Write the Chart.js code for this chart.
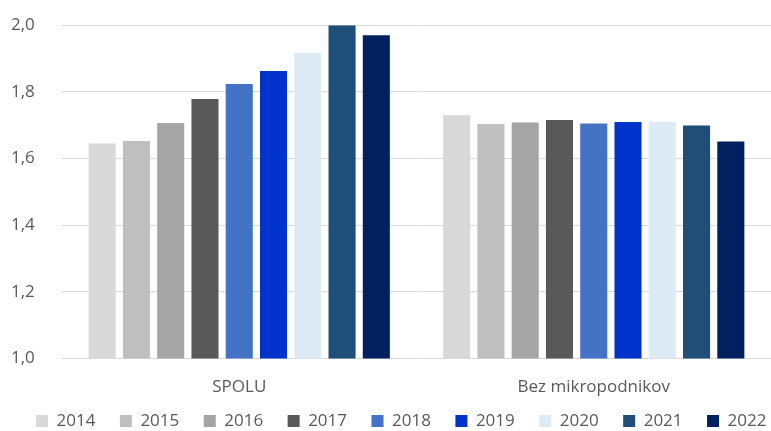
<!DOCTYPE html>
<html>
<head>
<meta charset="utf-8">
<script src="https://cdn.jsdelivr.net/npm/chart.js@4"></script>
<style>
  html, body { margin: 0; padding: 0; background: #fff; }
  #wrap { width: 771px; height: 431px; }
</style>
</head>
<body>
<div id="wrap"><canvas id="myChart" width="771" height="431"></canvas></div>
<script>
// categories and series
let categories = ["SPOLU", "Bez mikropodnikov"];
let years = ["2014", "2015", "2016", "2017", "2018", "2019", "2020", "2021", "2022"];
let spolu = [1.645, 1.653, 1.707, 1.779, 1.824, 1.863, 1.917, 2.0, 1.97];
let bezMikro = [1.730, 1.704, 1.708, 1.716, 1.705, 1.710, 1.710, 1.699, 1.651];
let yTicks = [1.0, 1.2, 1.4, 1.6, 1.8, 2.0];

let colors = ['#d9d9d9', '#bfbfbf', '#a5a5a5', '#595959', '#4472c4',
              '#0033cc', '#ddebf7', '#1f4e79', '#002060'];

let datasets = years.map(function (y, i) {
    return {
        label: y,
        data: [spolu[i], bezMikro[i]],
        backgroundColor: colors[i],
        borderWidth: 0,
        categoryPercentage: 0.87,
        barPercentage: 0.79
    };
});

const textColor = '#595959';
const fontFamily = '"Open Sans", "Noto Sans", sans-serif';
const fontSize = 17;

// legend: one row, small box in the layout, drawn on its own strip at the bottom
const legendTweak = {
    id: 'legendTweak',
    afterInit(chart) {
        const legend = chart.legend;
        const fit = legend.fit;
        const draw = legend.draw;
        legend.fit = function () {
            const mw = this.maxWidth;
            this.maxWidth = mw + 200;
            fit.call(this);
            this.maxWidth = mw;
            this.width = mw;
            this.height = 16;
        };
        legend.draw = function () {
            const saved = [this.left, this.right, this.top, this.bottom, this.width, this.height];
            const lblPad = this.options.labels.padding;
            this.left = 36 - lblPad;
            this.right = 900;
            this.top = 421 - lblPad - fontSize / 2;
            this.bottom = chart.height;
            this.width = this.right - this.left;
            this.height = this.bottom - this.top;
            draw.call(this);
            [this.left, this.right, this.top, this.bottom, this.width, this.height] = saved;
        };
    }
};

new Chart(document.getElementById('myChart'), {
    type: 'bar',
    data: { labels: categories, datasets: datasets },
    plugins: [legendTweak],
    options: {
        responsive: false,
        animation: false,
        layout: { padding: { top: 0, right: 0, left: 11, bottom: 0 } },
        plugins: {
            tooltip: { enabled: false },
            legend: {
                position: 'bottom',
                align: 'start',
                labels: {
                    color: textColor,
                    font: { family: fontFamily, size: fontSize },
                    boxWidth: 12,
                    boxHeight: 12,
                    padding: 24.5
                }
            }
        },
        scales: {
            x: {
                grid: { display: false, drawTicks: false },
                border: { display: false },
                ticks: { color: textColor, font: { family: fontFamily, size: fontSize }, padding: 18 }
            },
            y: {
                min: 1.0,
                max: 2.0,
                afterBuildTicks: function (axis) {
                    axis.ticks = yTicks.map(function (v) { return { value: v }; });
                },
                afterFit: function (scale) { scale.width = 51; },
                grid: { color: '#d9d9d9', lineWidth: 1, drawTicks: false },
                border: { display: false },
                ticks: {
                    color: textColor,
                    font: { family: fontFamily, size: fontSize },
                    padding: 15,
                    crossAlign: 'far',
                    callback: function (v) { return v.toFixed(1).replace('.', ','); }
                }
            }
        }
    }
});
</script>
</body>
</html>
